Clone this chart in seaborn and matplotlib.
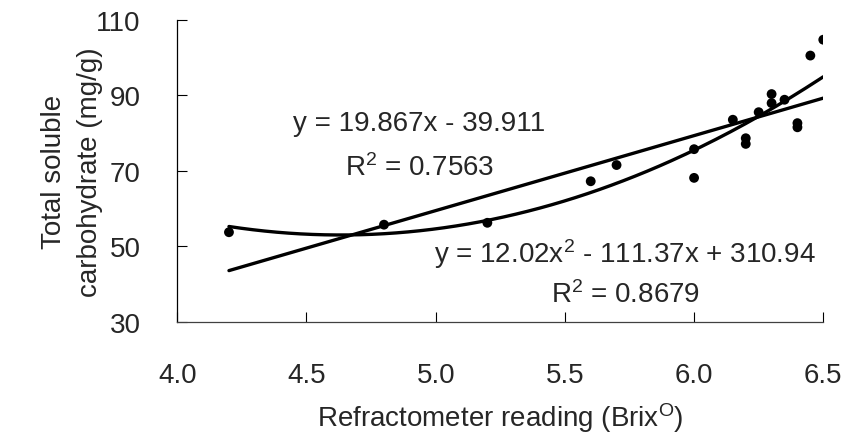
import numpy as np
import pandas as pd
import matplotlib
matplotlib.use("Agg")
import matplotlib.pyplot as plt
import seaborn as sns

# Data
brix = [4.2, 4.8, 5.2, 5.6, 5.7, 6.0, 6.0, 6.15, 6.2, 6.2, 6.25, 6.3, 6.3, 6.35, 6.4, 6.4, 6.45, 6.5]
carb = [53.7, 55.7, 56.2, 67.2, 71.5, 75.7, 68.1, 83.5, 78.6, 77.1, 85.5, 90.3, 87.9, 88.8, 82.6, 81.5, 100.5, 104.7]

# Trendline coefficients as printed on the chart
lin_coef = [19.867, -39.911]
quad_coef = [12.02, -111.37, 310.94]

x_ticks = [4.0, 4.5, 5.0, 5.5, 6.0, 6.5]
y_ticks = [30, 50, 70, 90, 110]

df = pd.DataFrame({"brix": brix, "carb": carb})

# Trendlines evaluated over the data range
x_fit = np.linspace(min(brix), max(brix), 200)
fit = pd.DataFrame({
    "x": x_fit,
    "linear": np.polyval(lin_coef, x_fit),
    "quad": np.polyval(quad_coef, x_fit),
})

sns.set_style("ticks")
plt.rcParams["font.family"] = ["Liberation Sans", "DejaVu Sans"]
plt.rcParams["mathtext.fontset"] = "custom"
plt.rcParams["mathtext.rm"] = "Liberation Sans"
plt.rcParams["mathtext.it"] = "Liberation Sans"

fig = plt.figure(figsize=(8.43, 4.35), dpi=100)
ax = fig.add_axes([0.2103, 0.2582, 0.7663, 0.6942])

sns.lineplot(data=fit, x="x", y="linear", color="black", linewidth=2.4, ax=ax)
sns.lineplot(data=fit, x="x", y="quad", color="black", linewidth=2.4, ax=ax)
sns.scatterplot(data=df, x="brix", y="carb", color="black", s=50, edgecolor="none", ax=ax, zorder=3)

ax.set_xlim(4.0, 6.5)
ax.set_ylim(30, 110)
ax.set_xticks(x_ticks)
ax.set_yticks(y_ticks)
ax.set_xticklabels([f"{t:.1f}" for t in x_ticks])
ax.set_yticklabels([str(t) for t in y_ticks])
ax.tick_params(axis="both", direction="in", length=7.5, width=0.8, labelsize=20, color="black")
ax.tick_params(axis="x", pad=29)
ax.tick_params(axis="y", pad=26.5)
ax.set_xlabel("")
ax.set_ylabel("")

sns.despine(ax=ax)
ax.spines["left"].set_color("black")
ax.spines["bottom"].set_color("#404040")
for side in ["left", "bottom"]:
    ax.spines[side].set_linewidth(0.9)

# Equation labels
ax.text(4.934, 82.6, "y = 19.867x - 39.911", fontsize=20, ha="center", va="center")
ax.text(4.938, 71.0, "R$^2$ = 0.7563", fontsize=20, ha="center", va="center")
ax.text(5.731, 48.3, "y = 12.02x$^2$ - 111.37x + 310.94", fontsize=20, ha="center", va="center")
ax.text(5.735, 37.4, "R$^2$ = 0.8679", fontsize=20, ha="center", va="center")

# Axis titles
fig.text(500 / 843, 1 - 427 / 435, "Refractometer reading (Brix$^{\\mathrm{O}}$)",
         fontsize=20, ha="center", va="baseline")
fig.text(72 / 843, 1 - 171.7 / 435, "Total soluble\ncarbohydrate (mg/g)",
         fontsize=20, ha="center", va="center", rotation=90, linespacing=1.5,
         multialignment="center")

fig.savefig("out.png", dpi=100)
